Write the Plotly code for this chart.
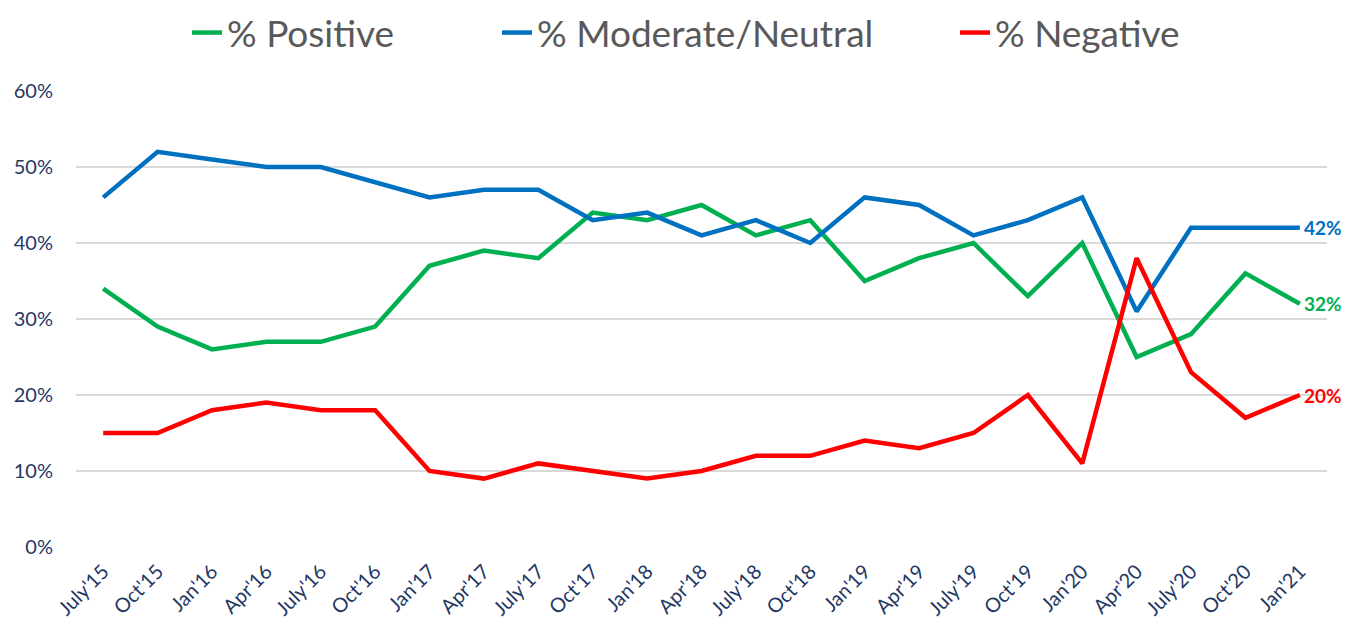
import plotly.graph_objects as go

categories = ["July'15", "Oct'15", "Jan'16", "Apr'16", "July'16", "Oct'16", "Jan'17", "Apr'17",
              "July'17", "Oct'17", "Jan'18", "Apr'18", "July'18", "Oct'18", "Jan'19", "Apr'19",
              "July'19", "Oct'19", "Jan'20", "Apr'20", "July'20", "Oct'20", "Jan'21"]
positive = [34, 29, 26, 27, 27, 29, 37, 39, 38, 44, 43, 45, 41, 43, 35, 38, 40, 33, 40, 25, 28, 36, 32]
moderate = [46, 52, 51, 50, 50, 48, 46, 47, 47, 43, 44, 41, 43, 40, 46, 45, 41, 43, 46, 31, 42, 42, 42]
negative = [15, 15, 18, 19, 18, 18, 10, 9, 11, 10, 9, 10, 12, 12, 14, 13, 15, 20, 11, 38, 23, 17, 20]
y_ticks = [0, 10, 20, 30, 40, 50, 60]

W, H = 1349, 624
OFF = 8  # page body margin offset

series = [
    ("% Positive", positive, "#00B050", "legend", 187),
    ("% Moderate/Neutral", moderate, "#0070C0", "legend2", 497),
    ("% Negative", negative, "#FF0000", "legend3", 955),
]

fig = go.Figure()
x_idx = list(range(len(categories)))
legend_layout = {}
for name, vals, color, leg, lx in series:
    fig.add_trace(go.Scatter(
        x=x_idx, y=vals, mode="lines", name=name, legend=leg, showlegend=True,
        line=dict(color=color, width=4.5),
        hoverinfo="x+y",
    ))
    fig.add_annotation(
        x=x_idx[-1], y=vals[-1], text="<b>%d%%</b>" % vals[-1],
        showarrow=False, xanchor="left", yanchor="middle", xshift=2,
        font=dict(family="Lato, sans-serif", size=19, color=color),
    )
    legend_layout[leg] = dict(
        x=(lx - OFF) / W, xref="container", xanchor="left",
        y=1.0 - 25 / H, yref="container", yanchor="middle",
        font=dict(size=37, color="#595959"), itemwidth=30,
        bgcolor="rgba(0,0,0,0)", borderwidth=0,
    )

fig.update_layout(
    width=W, height=H,
    showlegend=True,
    margin=dict(l=76 - OFF, r=W - (1327 - OFF), t=91 - OFF, b=H - (547 - OFF), autoexpand=False),
    plot_bgcolor="white", paper_bgcolor="white",
    font=dict(family="Lato, sans-serif", color="#1F3864"),
    **legend_layout,
    xaxis=dict(
        tickmode="array", tickvals=x_idx, ticktext=categories,
        range=[-0.5, len(categories) - 0.5], automargin=False,
        tickangle=-45, showgrid=False, zeroline=False, showline=False,
        tickfont=dict(size=20, color="#1F3864"), ticklabelstandoff=8,
    ),
    yaxis=dict(
        range=[0, 60], tickvals=y_ticks, ticktext=["%d%%" % v for v in y_ticks],
        showgrid=True, gridcolor="#D9D9D9", gridwidth=2, zeroline=False,
        automargin=False,
        tickfont=dict(size=20, color="#1F3864"), ticklabelstandoff=22,
    ),
)

fig.write_html("out.html")
